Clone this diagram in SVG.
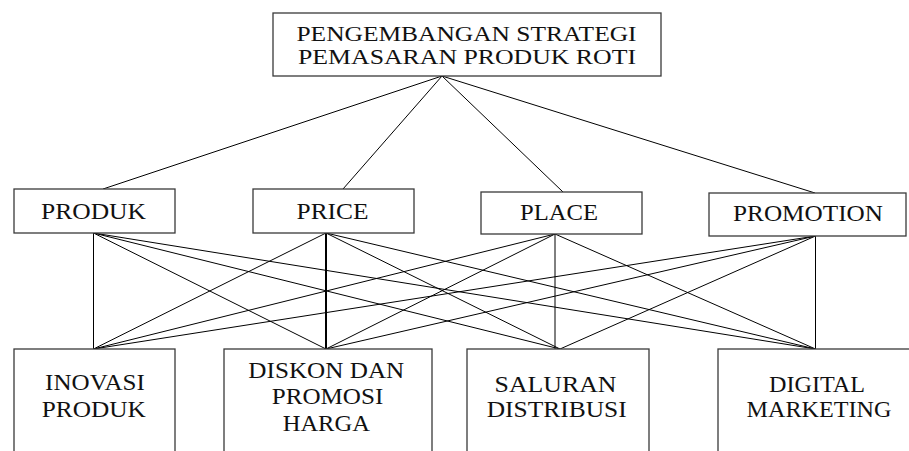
<svg xmlns="http://www.w3.org/2000/svg" width="909" height="451" viewBox="0 0 909 451">
<style>
.box{fill:#fff;stroke:#3a3a3a;stroke-width:1.3}
.t{font-family:"Liberation Serif","Times New Roman",serif;font-size:23px;fill:#111;text-anchor:middle}
.tt{font-size:20.5px}
.c{stroke:#000;stroke-width:1;fill:none}
</style>
<rect width="909" height="451" fill="#fff"/>
<g id="connectors">
<line class="c" x1="442" y1="76" x2="103" y2="189"/>
<line class="c" x1="442" y1="76" x2="343" y2="189"/>
<line class="c" x1="442" y1="76" x2="563" y2="192"/>
<line class="c" x1="442" y1="76" x2="815" y2="193"/>
<line class="c" x1="93.5" y1="233" x2="93.5" y2="349"/>
<line class="c" x1="93.5" y1="233" x2="326" y2="349"/>
<line class="c" x1="93.5" y1="233" x2="560" y2="349"/>
<line class="c" x1="93.5" y1="233" x2="815.5" y2="349"/>
<line class="c" x1="326" y1="233" x2="93.5" y2="349"/>
<line class="c" x1="326" y1="233" x2="326" y2="349" style="stroke-width:2"/>
<line class="c" x1="326" y1="233" x2="560" y2="349"/>
<line class="c" x1="326" y1="233" x2="815.5" y2="349"/>
<line class="c" x1="555" y1="234" x2="93.5" y2="349"/>
<line class="c" x1="555" y1="234" x2="326" y2="349"/>
<line class="c" x1="555" y1="234" x2="555" y2="349"/>
<line class="c" x1="555" y1="234" x2="815.5" y2="349"/>
<line class="c" x1="815.5" y1="236" x2="93.5" y2="349"/>
<line class="c" x1="815.5" y1="236" x2="326" y2="349"/>
<line class="c" x1="815.5" y1="236" x2="560" y2="349"/>
<line class="c" x1="815.5" y1="236" x2="815.5" y2="349"/>
</g>
<g id="root">
<rect class="box" x="273" y="13" width="388" height="63"/>
<text class="t tt" transform="translate(466.5,41.3) scale(1.242,1)">PENGEMBANGAN STRATEGI</text>
<text class="t tt" transform="translate(467,64) scale(1.258,1)">PEMASARAN PRODUK ROTI</text>
</g>
<g id="produk">
<rect class="box" x="14" y="189" width="161" height="44"/>
<text class="t" transform="translate(93.5,219) scale(1.11,1)">PRODUK</text>
</g>
<g id="price">
<rect class="box" x="253" y="189" width="161" height="44"/>
<text class="t" transform="translate(332.5,219) scale(1.104,1)">PRICE</text>
</g>
<g id="place">
<rect class="box" x="481" y="192" width="161" height="42"/>
<text class="t" transform="translate(559,219.5) scale(1.071,1)">PLACE</text>
</g>
<g id="promotion">
<rect class="box" x="709" y="193" width="197" height="43"/>
<text class="t" transform="translate(808,221) scale(1.097,1)">PROMOTION</text>
</g>
<g id="inovasi">
<rect class="box" x="14" y="349" width="161" height="115"/>
<text class="t" transform="translate(95,390) scale(1.09,1)">INOVASI</text>
<text class="t" transform="translate(93.7,417) scale(1.1,1)">PRODUK</text>
</g>
<g id="diskon">
<rect class="box" x="224" y="349" width="208" height="115"/>
<text class="t" transform="translate(326.3,377.7) scale(1.095,1)">DISKON DAN</text>
<text class="t" transform="translate(327.5,404) scale(1.092,1)">PROMOSI</text>
<text class="t" transform="translate(326.3,431) scale(1.067,1)">HARGA</text>
</g>
<g id="saluran">
<rect class="box" x="467" y="349" width="182" height="115"/>
<text class="t" transform="translate(555.5,391.7) scale(1.123,1)">SALURAN</text>
<text class="t" transform="translate(556.7,417.3) scale(1.107,1)">DISTRIBUSI</text>
</g>
<g id="digital">
<rect class="box" x="718" y="349" width="200" height="115"/>
<text class="t" transform="translate(817,391.7) scale(1.051,1)">DIGITAL</text>
<text class="t" transform="translate(819,417.3) scale(1.051,1)">MARKETING</text>
</g>
</svg>
